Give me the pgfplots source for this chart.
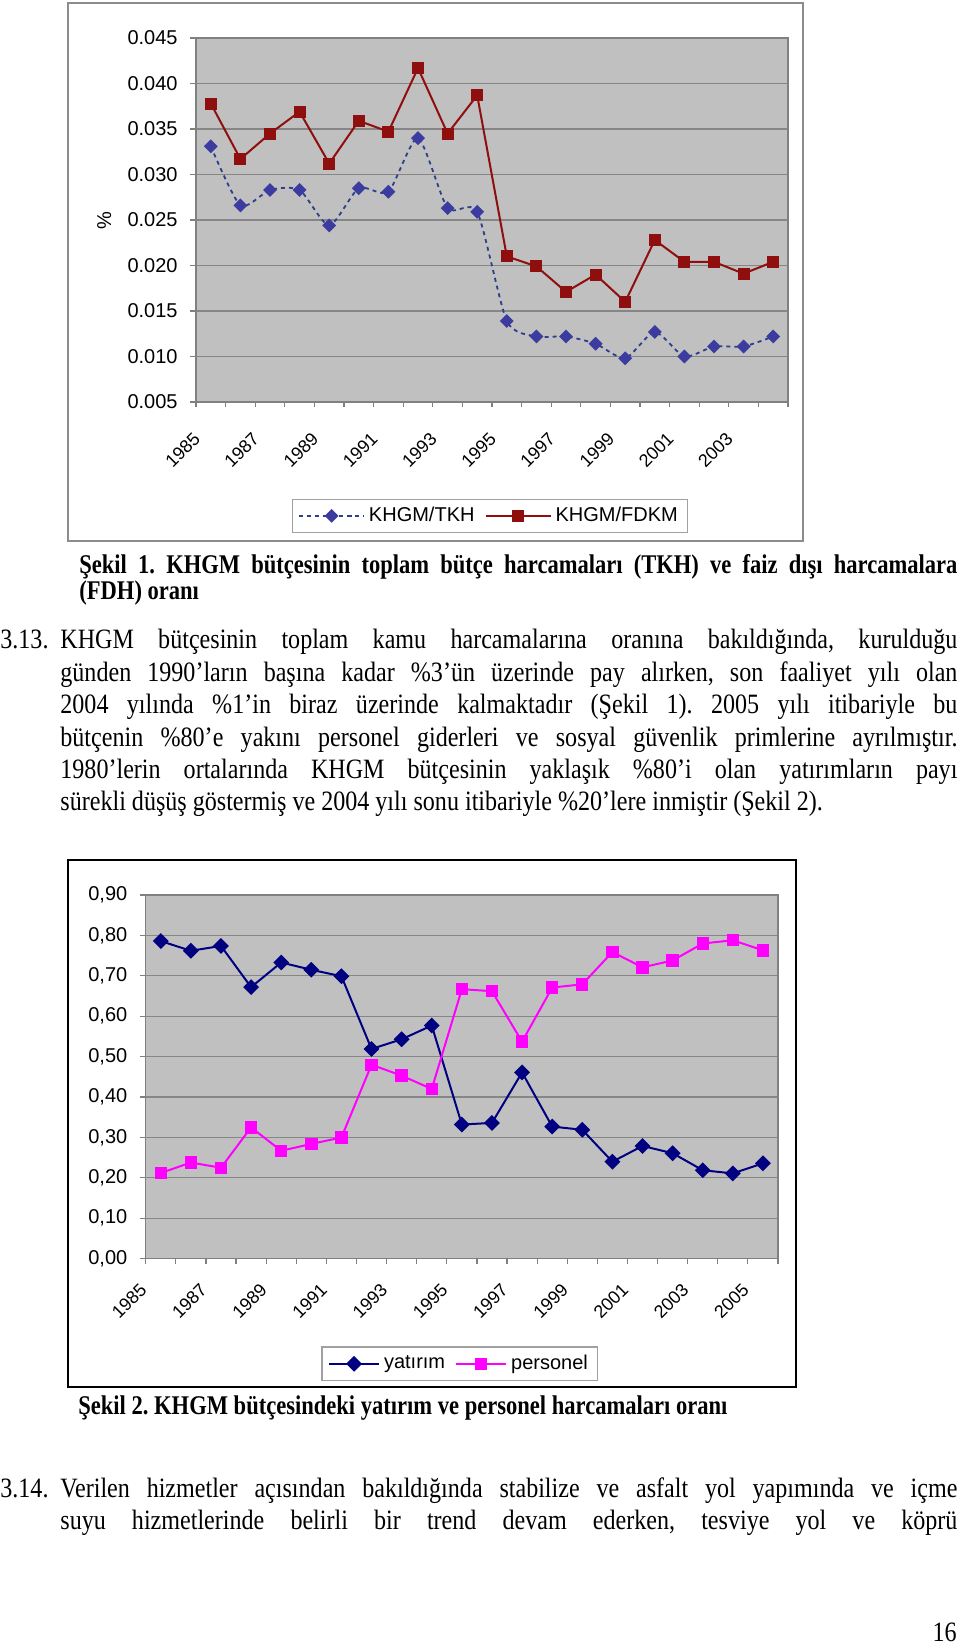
\documentclass[border=0pt]{standalone}
\usepackage{fontspec}
\setmainfont{Liberation Sans}
\newfontfamily\tnr{Liberation Serif}[FakeStretch=0.86]
\newfontfamily\capfont{Liberation Serif}[FakeStretch=0.835]
\usepackage{pgfplots}
\pgfplotsset{compat=1.18}
\frenchspacing
\definecolor{plotbg}{HTML}{C0C0C0}
\definecolor{gridc}{HTML}{868686}
\definecolor{axgray}{HTML}{808080}
\definecolor{frameone}{HTML}{8C8C8C}
\definecolor{leggray}{HTML}{A0A0A0}
\definecolor{tkhline}{HTML}{2C3E8C}
\definecolor{tkhmark}{HTML}{3C3CA0}
\definecolor{fdkm}{HTML}{8F0E0E}
\definecolor{navy}{HTML}{000080}
\definecolor{magenta}{HTML}{FF00FF}
\pgfplotsset{
  excelax/.style={
    scale only axis, anchor=south west,
    axis background/.style={fill=plotbg},
    axis line style={draw=axgray, line width=0.6pt},
    ymajorgrids, grid style={draw=gridc, line width=0.6pt},
    tick align=outside,
    xtick pos=left, ytick pos=left,
    major x tick style={draw=none},
    minor x tick style={draw=axgray, line width=0.6pt},
    major y tick style={draw=axgray, line width=0.6pt},
    minor tick length=2.5pt, major tick length=3pt,
    yticklabel style={font=\fontsize{10}{12}\selectfont, anchor=east, inner sep=0pt, xshift=-6pt},
    /pgf/number format/assume math mode=true,
    scaled y ticks=false,
    clip=false,
    legend cell align=left,
  }
}
\begin{document}
\begin{tikzpicture}
\useasboundingbox (0,0) rectangle (480pt,824pt);
% ---------- chart 1 frame
\draw[frameone, line width=0.8pt, fill=white] (34pt,553.5pt) rectangle (401.5pt,822.5pt);
\begin{axis}[excelax,
  at={(98pt,623pt)}, width=296pt, height=182pt,
  xmin=-0.5, xmax=19.5, ymin=0.005, ymax=0.045,
  ytick={0.005,0.010,0.015,0.020,0.025,0.030,0.035,0.040,0.045},
  /pgf/number format/fixed, /pgf/number format/fixed zerofill, /pgf/number format/precision=3,
  xtick={0,2,...,18},
  xticklabels={1985,1987,1989,1991,1993,1995,1997,1999,2001,2003},
  xticklabel style={font=\fontsize{9}{11}\selectfont, xshift=-9.3pt, yshift=-11.5pt, anchor=north east, rotate=45, inner sep=0pt},
  minor xtick={-0.5,0.5,...,19.5},
  ylabel={\%},
  ylabel style={at={(rel axis cs:-0.155,0.497)}, anchor=center, font=\fontsize{10}{12}\selectfont},
  legend style={at={(0.4966,-0.313)}, anchor=center, draw=leggray, line width=0.6pt,
    font=\fontsize{10}{12}\selectfont, legend columns=2,
    /tikz/every even column/.append style={column sep=3pt}},
  legend image code/.code={\draw[mark repeat=2,mark phase=2,#1] plot coordinates {(0pt,0pt) (16.25pt,0pt) (32.5pt,0pt)};},
]
\addplot[tkhline, line width=0.9pt, dash pattern=on 2pt off 2pt, smooth, tension=0.4,
  mark=square*, mark size=2pt, mark options={solid, rotate=45, fill=tkhmark, draw=tkhmark}]
  coordinates {(0,0.0331) (1,0.0266) (2,0.0283) (3,0.0283) (4,0.0244) (5,0.0285) (6,0.0281) (7,0.0340) (8,0.0263) (9,0.0259)
  (10,0.0139) (11,0.0122) (12,0.0122) (13,0.0114) (14,0.0098) (15,0.0127) (16,0.0100) (17,0.0111) (18,0.0111) (19,0.0122)};
\addlegendentry{KHGM/TKH}
\addplot[fdkm, line width=1pt, mark=square*, mark size=2.5pt, mark options={solid, fill=fdkm, draw=fdkm}]
  coordinates {(0,0.0378) (1,0.0317) (2,0.0345) (3,0.0369) (4,0.0312) (5,0.0359) (6,0.0347) (7,0.0417) (8,0.0345) (9,0.0387)
  (10,0.0210) (11,0.0199) (12,0.0171) (13,0.0190) (14,0.0160) (15,0.0228) (16,0.0204) (17,0.0204) (18,0.0191) (19,0.0204)};
\addlegendentry{KHGM/FDKM}
\end{axis}
% ---------- caption 1
\node[anchor=base west, inner sep=0pt] at (39.5pt,537pt) {\capfont\bfseries\fontsize{13.5}{16}\selectfont\makebox[439pt][s]{Şekil 1. KHGM bütçesinin toplam bütçe harcamaları (TKH) ve faiz dışı harcamalara}};
\node[anchor=base west, inner sep=0pt] at (39.5pt,524pt) {\capfont\bfseries\fontsize{13.5}{16}\selectfont (FDH) oranı};
% ---------- paragraph 3.13
\node[anchor=base west, inner sep=0pt] at (0pt,499.5pt) {\tnr\fontsize{14}{16}\selectfont 3.13.};
\node[anchor=base west, inner sep=0pt] at (30pt,499.5pt) {\tnr\fontsize{14}{16}\selectfont\makebox[448.5pt][s]{KHGM bütçesinin toplam kamu harcamalarına oranına bakıldığında, kurulduğu}};
\node[anchor=base west, inner sep=0pt] at (30pt,483.3pt) {\tnr\fontsize{14}{16}\selectfont\makebox[448.5pt][s]{günden 1990’ların başına kadar \%3’ün üzerinde pay alırken, son faaliyet yılı olan}};
\node[anchor=base west, inner sep=0pt] at (30pt,467.1pt) {\tnr\fontsize{14}{16}\selectfont\makebox[448.5pt][s]{2004 yılında \%1’in biraz üzerinde kalmaktadır (Şekil 1). 2005 yılı itibariyle bu}};
\node[anchor=base west, inner sep=0pt] at (30pt,450.9pt) {\tnr\fontsize{14}{16}\selectfont\makebox[448.5pt][s]{bütçenin \%80’e yakını personel giderleri ve sosyal güvenlik primlerine ayrılmıştır.}};
\node[anchor=base west, inner sep=0pt] at (30pt,434.7pt) {\tnr\fontsize{14}{16}\selectfont\makebox[448.5pt][s]{1980’lerin ortalarında KHGM bütçesinin yaklaşık \%80’i olan yatırımların payı}};
\node[anchor=base west, inner sep=0pt] at (30pt,418.5pt) {\tnr\fontsize{14}{16}\selectfont sürekli düşüş göstermiş ve 2004 yılı sonu itibariyle \%20’lere inmiştir (Şekil 2).};
% ---------- chart 2 frame
\draw[black, line width=1.1pt, fill=white] (34pt,130.5pt) rectangle (398pt,394pt);
\begin{axis}[excelax,
  at={(72.85pt,194.65pt)}, width=316.15pt, height=181.85pt,
  xmin=-0.5, xmax=20.5, ymin=0, ymax=0.9,
  ytick={0,0.1,0.2,0.3,0.4,0.5,0.6,0.7,0.8,0.9},
  /pgf/number format/fixed, /pgf/number format/fixed zerofill, /pgf/number format/precision=2, /pgf/number format/use comma,
  xtick={0,2,...,20},
  xticklabels={1985,1987,1989,1991,1993,1995,1997,1999,2001,2003,2005},
  xticklabel style={font=\fontsize{9}{11}\selectfont, xshift=-11pt, yshift=-8.5pt, anchor=north east, rotate=45, inner sep=0pt},
  minor xtick={-0.5,0.5,...,20.5},
  legend style={at={(0.497,-0.289)}, anchor=center, draw=leggray, line width=0.6pt,
    font=\fontsize{10}{12}\selectfont, legend columns=2,
    /tikz/every even column/.append style={column sep=3pt}},
  legend image code/.code={\draw[mark repeat=2,mark phase=2,#1] plot coordinates {(0pt,0pt) (12.5pt,0pt) (25pt,0pt)};},
]
\addplot[navy, line width=1pt, mark=square*, mark size=2.3pt, mark options={solid, rotate=45, fill=navy, draw=navy}]
  coordinates {(0,0.786) (1,0.762) (2,0.774) (3,0.672) (4,0.733) (5,0.715) (6,0.699) (7,0.519) (8,0.543) (9,0.577) (10,0.332)
  (11,0.336) (12,0.461) (13,0.327) (14,0.319) (15,0.240) (16,0.279) (17,0.261) (18,0.219) (19,0.211) (20,0.236)};
\addlegendentry{yatırım}
\addplot[magenta, line width=1pt, mark=square*, mark size=2.6pt, mark options={solid, fill=magenta, draw=magenta}]
  coordinates {(0,0.212) (1,0.238) (2,0.225) (3,0.325) (4,0.267) (5,0.284) (6,0.300) (7,0.480) (8,0.453) (9,0.420) (10,0.667)
  (11,0.662) (12,0.537) (13,0.671) (14,0.679) (15,0.759) (16,0.721) (17,0.738) (18,0.780) (19,0.788) (20,0.763)};
\addlegendentry{personel}
\end{axis}
% ---------- caption 2
\node[anchor=base west, inner sep=0pt] at (39pt,116.5pt) {\capfont\bfseries\fontsize{13.5}{16}\selectfont Şekil 2. KHGM bütçesindeki yatırım ve personel harcamaları oranı};
% ---------- paragraph 3.14
\node[anchor=base west, inner sep=0pt] at (0pt,75pt) {\tnr\fontsize{14}{16}\selectfont 3.14.};
\node[anchor=base west, inner sep=0pt] at (30pt,75pt) {\tnr\fontsize{14}{16}\selectfont\makebox[448.5pt][s]{Verilen hizmetler açısından bakıldığında stabilize ve asfalt yol yapımında ve içme}};
\node[anchor=base west, inner sep=0pt] at (30pt,59pt) {\tnr\fontsize{14}{16}\selectfont\makebox[448.5pt][s]{suyu hizmetlerinde belirli bir trend devam ederken, tesviye yol ve köprü}};
% ---------- page number
\node[anchor=base east, inner sep=0pt] at (478.5pt,3pt) {\tnr\fontsize{14}{16}\selectfont 16};
\end{tikzpicture}
\end{document}
